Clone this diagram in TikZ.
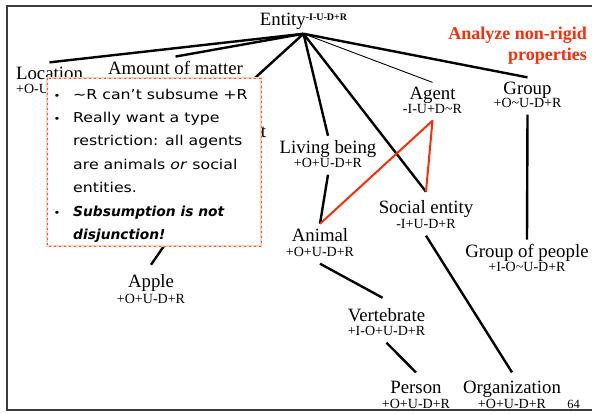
\documentclass[tikz,border=0pt]{standalone}
\usepackage{fontspec}
\setmainfont{Liberation Serif}
\newfontfamily\notefont[FakeStretch=1.16]{DejaVu Sans}
\newfontfamily\noteboldfont{DejaVu Sans}
\definecolor{alert}{RGB}{250,45,10}
\definecolor{notebd}{RGB}{245,90,40}
\definecolor{notetint}{RGB}{252,210,190}
\definecolor{frame}{RGB}{60,60,60}
\begin{document}
\begin{tikzpicture}[x=1pt,y=-1pt,
  cls/.style={anchor=base,inner xsep=2pt,inner ysep=4pt,font=\fontsize{18.8}{20}\selectfont},
  props/.style={anchor=base,inner xsep=2pt,inner ysep=7.5pt,text depth=0pt,font=\fontsize{14}{16}\selectfont},
  isa/.style={line width=2.4pt},
  weakisa/.style={line width=0.9pt},
  clash/.style={line width=2pt,alert,line join=round},
  alertnote/.style={anchor=base east,inner sep=0pt,text=alert,font=\fontsize{18}{20}\selectfont\bfseries},
  noteline/.style={anchor=base west,inner sep=0pt,font=\notefont\fontsize{13.6}{16}\selectfont},
  noteboldline/.style={anchor=base west,inner sep=0pt,font=\noteboldfont\fontsize{13.8}{16}\selectfont\bfseries\itshape},
  notebullet/.style={anchor=base,inner sep=0pt,font=\notefont\fontsize{10}{12}\selectfont}]
\useasboundingbox (0,0) rectangle (592,413);
% page frame
\draw[frame,line width=1.1pt] (592,6) -- (7,6) -- (7,410) -- (592,410);

% taxonomy
\node[cls,inner ysep=4.5pt] (entity) at (303.5,25) {Entity\raisebox{5pt}{\fontsize{10}{10}\selectfont\bfseries -I-U-D+R}};
\node[cls] (location) at (49.5,79) {Location};
\node[props,anchor=base west] (location-p) at (14,93) {+O-U-D+R};
\node[cls] (matter) at (175.5,74) {Amount of matter};
\node[cls] (physobj) at (209,137) {Physical object};
\coordinate (fruit) at (175,230);
\node[cls] (agent) at (432.5,99) {Agent};
\node[props] (agent-p) at (432.5,113) {-I-U+D\textasciitilde R};
\node[cls] (group) at (527.5,94) {Group};
\node[props] (group-p) at (527.5,107) {+O\textasciitilde U-D+R};
\node[cls] (living) at (328,153) {Living being};
\node[props] (living-p) at (328,167) {+O+U-D+R};
\node[cls,inner ysep=8pt] (social) at (426,213) {Social entity};
\node[props] (social-p) at (426,228) {-I+U-D+R};
\node[cls] (animal) at (320,241) {Animal};
\node[props] (animal-p) at (320,256) {+O+U-D+R};
\node[cls] (people) at (527,257) {Group of people};
\node[props] (people-p) at (527,271) {+I-O\textasciitilde U-D+R};
\node[cls,inner ysep=9pt] (apple) at (151,287) {Apple};
\node[props] (apple-p) at (151,303) {+O+U-D+R};
\node[cls,inner ysep=10pt] (vert) at (386.5,321) {Vertebrate};
\node[props] (vert-p) at (386.5,335) {+I-O+U-D+R};
\node[cls,inner ysep=8pt] (person) at (416,393) {Person};
\node[props] (person-p) at (416,408) {+O+U-D+R};
\node[cls,inner ysep=8pt] (org) at (512,393) {Organization};
\node[props] (org-p) at (512,408) {+O+U-D+R};
\node[anchor=base east,inner sep=0pt,font=\fontsize{12.5}{14}\selectfont] (page) at (580,408) {64};

\draw[isa] (entity.south) -- (location.north);
\draw[isa] (entity.south) -- (matter.north);
\draw[isa] (entity.south) -- (physobj.north);
\draw[isa] (entity.south) -- (living.north);
\draw[isa] (entity.south) -- (social.north);
\draw[weakisa] (entity.south) -- (agent.north);
\draw[isa] (entity.south) -- (group.north);
\draw[isa] (group-p.south) -- (people.north);
\draw[isa] (living-p.south) -- (animal.north);
\draw[isa] (animal-p.south) -- ([xshift=-4pt]vert.north);
\draw[isa] (vert-p.south) -- (person.north);
\draw[isa] (social-p.south) -- (org.north);
\draw[isa] (fruit) -- (apple.north);

% conflicting subsumption
\draw[clash] (animal.north) -- (agent-p.south) -- (social.north);

\node[alertnote] (note1) at (587,39) {Analyze non-rigid};
\node[alertnote] (note2) at (587,60) {properties};

% callout
\path[fill=white] (47,78) rectangle (261,246);
\draw[notetint,line width=1.4pt] (47,78) rectangle (261,246);
\draw[notebd,line width=0.9pt,dash pattern=on 2pt off 3pt] (47,78) rectangle (261,246);

\node[notebullet] (b1) at (57,99) {•};
\node[noteline] (l1) at (73,99) {\textasciitilde R can’t subsume +R};
\node[notebullet] (b2) at (57,122.4) {•};
\node[noteline] (l2) at (73,122.4) {Really want a type};
\node[noteline] (l3) at (73,145.8) {restriction: all agents};
\node[noteline] (l4) at (73,169.2) {are animals \textit{or} social};
\node[noteline] (l5) at (73,192.6) {entities.};
\node[notebullet] (b3) at (57,216) {•};
\node[noteboldline] (l6) at (73,216) {Subsumption is not};
\node[noteboldline] (l7) at (73,239.4) {disjunction!};
\end{tikzpicture}
\end{document}
